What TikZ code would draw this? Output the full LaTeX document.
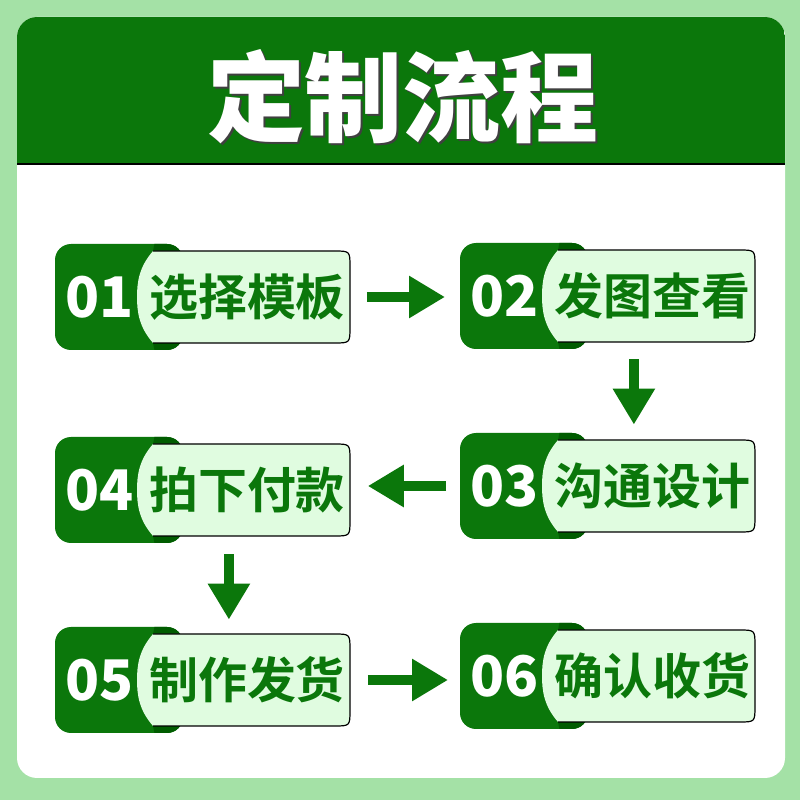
\documentclass[tikz,border=0pt]{standalone}
\usepackage{fontspec}
\usepackage{tikz}
\usetikzlibrary{arrows.meta,positioning}
\newfontfamily\cjk{Noto Sans CJK SC}[BoldFont={Noto Sans CJK SC Bold}]
\newfontfamily\titlefont{Noto Sans CJK SC Black}
\definecolor{bggreen}{HTML}{A4E1A6}
\definecolor{darkgreen}{HTML}{0B770B}
\definecolor{shadegreen}{HTML}{005C00}
\definecolor{lightfill}{HTML}{E0FCE0}

\begin{document}
\begin{tikzpicture}[x=0.5pt, y=0.5pt,
    flow/.style={line width=5pt, draw=darkgreen, -{Triangle[width=20pt,length=18pt]}},
    pics/stepcard/.style 2 args={code={
        \fill[darkgreen, rounded corners=8pt] (0,-53) rectangle (128,53);
        \begin{scope}
            \clip[rounded corners=8pt] (0,-53) rectangle (128,53);
            \fill[shadegreen] (100,56) -- (98,46) .. controls (84,30) and (82,15) .. (82,0)
                .. controls (82,-15) and (84,-30) .. (98,-46) -- (100,-56) -- (140,-56) -- (140,56) -- cycle;
        \end{scope}
        \fill[lightfill] (98,46) -- (279,46) .. controls (295,46) .. (295,30) -- (295,-30)
            .. controls (295,-46) .. (279,-46) -- (98,-46) .. controls (84,-30) and (82,-15) .. (82,0)
            .. controls (82,15) and (84,30) .. (98,46) -- cycle;
        \draw[line width=0.6pt] (98,46) -- (279,46) .. controls (295,46) .. (295,30) -- (295,-30)
            .. controls (295,-46) .. (279,-46) -- (98,-46);
        \node[inner sep=0, minimum width=147.5pt, minimum height=53pt, anchor=west] (-box) at (0,0) {};
        \node[text=white, font=\titlefont\fontsize{28}{30}\selectfont] (-num) at (45,0) {#1};
        \node[text=darkgreen, font=\cjk\bfseries\fontsize{24.5}{28}\selectfont] (-label) at (192,0) {#2};
    }}]
    % background and panel
    \fill[bggreen] (0,0) rectangle (800,800);
    \fill[white, rounded corners=10pt] (17,22) rectangle (785,783);
    \begin{scope}
        \clip[rounded corners=10pt] (17,22) rectangle (785,783);
        \fill[darkgreen] (17,636) rectangle (785,783);
    \end{scope}
    \draw[line width=0.8pt] (17,636) -- (785,636);
    \node[text=black!75, font=\titlefont\fontsize{49}{52}\selectfont] (titleshadow) at (405,701) {定制流程};
    \node[text=white, font=\titlefont\fontsize{49}{52}\selectfont] (title) at (403,703) {定制流程};

    % steps
    \pic (s1) at (55,503) {stepcard={01}{选择模板}};
    \pic (s2) at (460,504) {stepcard={02}{发图查看}};
    \pic (s3) at (460,314) {stepcard={03}{沟通设计}};
    \pic (s4) at (55,310) {stepcard={04}{拍下付款}};
    \pic (s5) at (55,120) {stepcard={05}{制作发货}};
    \pic (s6) at (460,124) {stepcard={06}{确认收货}};

    % arrows
    \draw[flow, shorten <=8pt, shorten >=7.5pt] (s1-box.east) -- (s1-box.east -| s2-box.west);
    \draw[flow, shorten <=5pt, shorten >=4pt] ([xshift=13pt]s2-box.south) -- ([xshift=13pt]s2-box.south |- s3-box.north);
    \draw[flow, shorten <=7pt, shorten >=8.5pt] (s3-box.west) -- (s3-box.west -| s4-box.east);
    \draw[flow, shorten <=5.5pt, shorten >=3.5pt] ([xshift=13pt]s4-box.south) -- ([xshift=13pt]s4-box.south |- s5-box.north);
    \draw[flow, shorten <=8.5pt, shorten >=6pt] (s5-box.east) -- (s5-box.east -| s6-box.west);
\end{tikzpicture}
\end{document}
